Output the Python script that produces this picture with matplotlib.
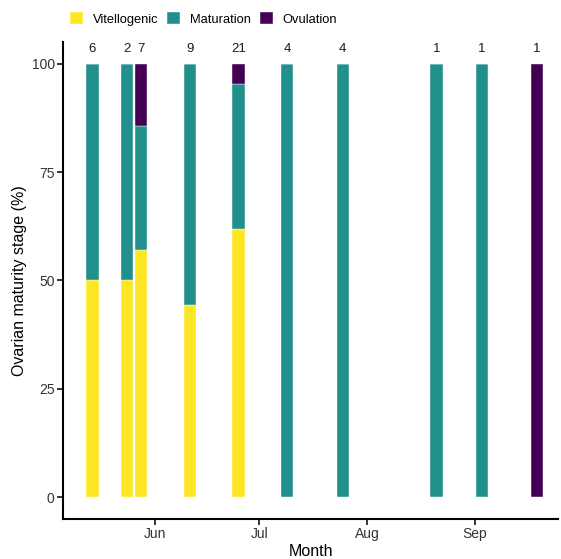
import matplotlib
matplotlib.use("Agg")
import matplotlib.pyplot as plt
import matplotlib.dates as mdates
import numpy as np
import datetime as dt

plt.rcParams['font.family'] = ['Liberation Sans', 'DejaVu Sans']

# sampling dates and counts
datas = ["2019-05-14", "2019-05-24", "2019-05-28", "2019-06-11", "2019-06-25",
         "2019-07-09", "2019-07-25", "2019-08-21", "2019-09-03", "2019-09-19"]
n = [6, 2, 7, 9, 21, 4, 4, 1, 1, 1]

# percentage by stage
vitellogenic = [50.0, 50.0, 57.1, 44.4, 61.9, 0, 0, 0, 0, 0]
maturation = [50.0, 50.0, 28.6, 55.6, 33.3, 100, 100, 100, 100, 0]
ovulation = [0, 0, 14.3, 0, 4.8, 0, 0, 0, 0, 100]

estagios = ["Vitellogenic", "Maturation", "Ovulation"]
cores = ["#FDE725", "#21908C", "#440154"]

x = [dt.datetime.strptime(d, "%Y-%m-%d") for d in datas]

fig = plt.figure(figsize=(5.61, 5.59), dpi=100)
ax = fig.add_axes([0.1123, 0.0716, 0.9947 - 0.1123, 0.9249 - 0.0716])

base = np.zeros(len(x))
for valores, nome, cor in zip([vitellogenic, maturation, ovulation], estagios, cores):
    ax.bar(x, valores, width=3.5, bottom=base, color=cor, label=nome,
           edgecolor="white", linewidth=0.3)
    base = base + np.array(valores)

for xi, ni in zip(x, n):
    ax.text(xi, 103.3, str(ni), ha="center", va="center", fontsize=9.5, color="#1a1a1a")

ax.set_ylim(-5, 105)
ax.set_xlim(dt.datetime(2019, 5, 5, 12), dt.datetime(2019, 9, 25))
ax.set_yticks([0, 25, 50, 75, 100])
ax.xaxis.set_major_locator(mdates.MonthLocator())
ax.xaxis.set_major_formatter(mdates.DateFormatter("%b"))

for lado in ["top", "right"]:
    ax.spines[lado].set_visible(False)
for lado in ["left", "bottom"]:
    ax.spines[lado].set_linewidth(1.5)
ax.tick_params(axis="both", direction="out", length=4, width=1.1,
               labelsize=10, labelcolor="#333333", pad=2)

ax.set_xlabel("Month", fontsize=11.5, labelpad=2)
ax.set_ylabel("Ovarian maturity stage (%)", fontsize=11.5, labelpad=3)

fig.legend(loc="upper left", bbox_to_anchor=(0.125, 0.978), ncol=3, frameon=False,
           fontsize=9.3, handlelength=1.0, handleheight=1.0, handletextpad=0.75,
           columnspacing=0.7, borderpad=0, borderaxespad=0)

plt.savefig("out.png", dpi=100)
